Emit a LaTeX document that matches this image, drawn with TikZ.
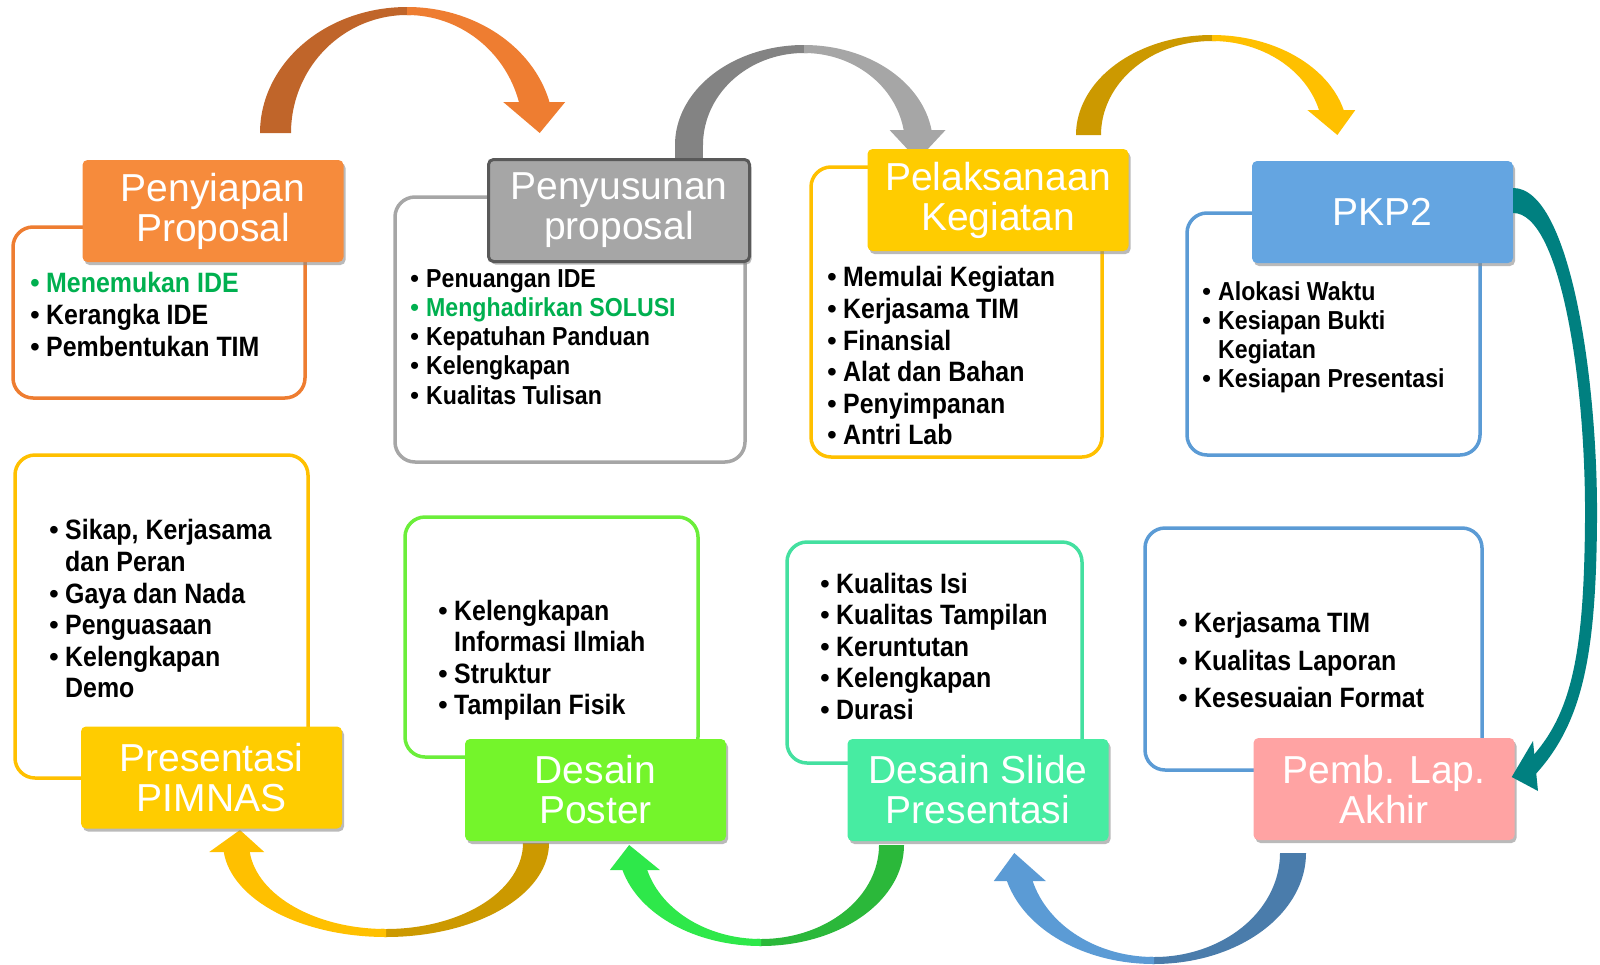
\documentclass[tikz,border=0pt]{standalone}
\usepackage{fontspec}
\setmainfont{Liberation Sans}
\newfontfamily\nrwb[FakeStretch=0.89]{Liberation Sans Bold}
\usetikzlibrary{shadows}
\definecolor{orgA}{HTML}{F68B3C}
\definecolor{orgL}{HTML}{EE7D31}
\definecolor{orgD}{HTML}{C0652A}
\definecolor{gryH}{HTML}{A6A6A6}
\definecolor{gryD}{HTML}{838383}
\definecolor{yel}{HTML}{FFCC00}
\definecolor{gldL}{HTML}{FFC000}
\definecolor{gldD}{HTML}{CC9900}
\definecolor{bluH}{HTML}{64A5E1}
\definecolor{bluL}{HTML}{5B9BD5}
\definecolor{bluD}{HTML}{4A7CAB}
\definecolor{grnH}{HTML}{74F52B}
\definecolor{grnB}{HTML}{6BEE3A}
\definecolor{grnL}{HTML}{2EE84A}
\definecolor{grnD}{HTML}{2BB83A}
\definecolor{mntH}{HTML}{47ECA2}
\definecolor{mntB}{HTML}{44E0A0}
\definecolor{pnkH}{HTML}{FFA3A3}
\definecolor{tea}{HTML}{008080}
\definecolor{okgreen}{HTML}{00B050}
\newcommand{\hdfont}{\fontsize{39}{40}\selectfont}
\newcommand{\lsfont}{\nrwb\fontsize{28}{31.6}\selectfont}
\newcommand{\lsfontsm}{\nrwb\fontsize{26}{29.3}\selectfont}
\newcommand{\bul}{\makebox[16pt][l]{\normalfont\textbullet}}
\newcommand{\ind}{\hspace*{16pt}}
% panah lengkung: Rx Ry rx ry h w dx ty
\newcommand{\arcarrow}[8]{%
  \pgfmathsetmacro{\angout}{asin(#5/#2)}%
  \pgfmathsetmacro{\angin}{asin(#5/#4)}%
  \pgfmathsetmacro{\shaftx}{(#1*cos(\angout)+#3*cos(\angin))/2}%
  \fill[arcdark] (-#1,0) arc[start angle=180, end angle=88, x radius=#1pt, y radius=#2pt]
    -- (88:#3pt and #4pt) arc[start angle=88, end angle=180, x radius=#3pt, y radius=#4pt] -- cycle;
  \fill[arclight] (0,#2) arc[start angle=90, end angle=\angout, x radius=#1pt, y radius=#2pt]
    -- (\angin:#3pt and #4pt) arc[start angle=\angin, end angle=90, x radius=#3pt, y radius=#4pt] -- cycle;
  \fill[arclight] (\shaftx-#6,#5) -- (\shaftx+#6,#5) -- (\shaftx+#7,#8) -- cycle;
}
\tikzset{
  head/.style = {rounded corners=5pt, minimum width=261pt, minimum height=102pt, inner sep=0pt,
    align=center, text=white, font=\hdfont,
    drop shadow={shadow xshift=2pt, shadow yshift=-3pt, fill=black!45, opacity=.6}},
  frame/.style = {draw, fill=white, rounded corners=20pt, line width=3.5pt, inner sep=0pt},
  list/.style = {anchor=north west, inner sep=0pt, align=left, font=\lsfont},
  arcdark/.style = {fill=black},
  arclight/.style = {fill=gray}
}

\begin{document}
\begin{tikzpicture}[x=1pt, y=1pt]
\useasboundingbox (0,0) rectangle (1600,-964);

% kotak isi
\node[frame, draw=orgL, minimum width=292pt, minimum height=171pt] (b1) at (159,-312.5) {};
\node[frame, draw=gryH, minimum width=350pt, minimum height=265pt] (b2) at (570,-329.5) {};
\node[frame, draw=gldL, minimum width=291pt, minimum height=290pt] (b3) at (956.5,-312) {};
\node[frame, draw=bluL, minimum width=293pt, minimum height=242pt] (b4) at (1333.5,-334) {};
\node[frame, draw=gldL, minimum width=293pt, minimum height=323pt] (b5) at (161.5,-616.5) {};
\node[frame, draw=grnB, minimum width=293pt, minimum height=240pt] (b6) at (551.5,-637) {};
\node[frame, draw=mntB, minimum width=295pt, minimum height=221pt] (b7) at (934.5,-652.5) {};
\node[frame, draw=bluL, minimum width=337pt, minimum height=242pt] (b8) at (1313.5,-649) {};

% daftar poin
\node[list] (l1) at (30,-272.5) {\textcolor{okgreen}{\bul Menemukan IDE}\\ \bul Kerangka IDE\\ \bul Pembentukan TIM};
\node[list, font=\lsfontsm] (l2) at (410,-269) {\bul Penuangan IDE\\ \textcolor{okgreen}{\bul Menghadirkan SOLUSI}\\ \bul Kepatuhan Panduan\\ \bul Kelengkapan\\ \bul Kualitas Tulisan};
\node[list] (l3) at (827,-266.5) {\bul Memulai Kegiatan\\ \bul Kerjasama TIM\\ \bul Finansial\\ \bul Alat dan Bahan\\ \bul Penyimpanan\\ \bul Antri Lab};
\node[list, font=\lsfontsm] (l4) at (1202,-281) {\bul Alokasi Waktu\\ \bul Kesiapan Bukti\\ \ind Kegiatan\\ \bul Kesiapan Presentasi};
\node[list] (l5) at (49,-519.5) {\bul Sikap, Kerjasama\\ \ind dan Peran\\ \bul Gaya dan Nada\\ \bul Penguasaan\\ \bul Kelengkapan\\ \ind Demo};
\node[list] (l6) at (438,-599.5) {\bul Kelengkapan\\ \ind Informasi Ilmiah\\ \bul Struktur\\ \bul Tampilan Fisik};
\node[list] (l7) at (820,-572.5) {\bul Kualitas Isi\\ \bul Kualitas Tampilan\\ \bul Keruntutan\\ \bul Kelengkapan\\ \bul Durasi};
\node[list] (l8) at (1178,-612.5) {\bul Kerjasama TIM\\[5.5pt] \bul Kualitas Laporan\\[5.5pt] \bul Kesesuaian Format};

% panah atas
\begin{scope}[shift={(407,-133)}, arcdark/.style={fill=orgD}, arclight/.style={fill=orgL}]
  \arcarrow{147}{126}{116}{118}{31}{31}{5.5}{0}
\end{scope}
\begin{scope}[shift={(804,-145)}, arcdark/.style={fill=gryD}, arclight/.style={fill=gryH}]
  \arcarrow{129}{100}{101}{92}{15}{28}{0}{-15}
  \fill[arcdark] (-129,0.5) rectangle (-101,-20);
\end{scope}
\begin{scope}[shift={(1212,-135)}, arcdark/.style={fill=gldD}, arclight/.style={fill=gldL}]
  \arcarrow{136}{100}{111}{94}{25}{24}{6}{0}
\end{scope}
% panah bawah
\begin{scope}[shift={(386,-843)}, rotate=180, arcdark/.style={fill=gldD}, arclight/.style={fill=gldL}]
  \arcarrow{163}{94}{137}{86}{9}{27.5}{-3.2}{-13}
\end{scope}
\begin{scope}[shift={(761,-845)}, rotate=180, arcdark/.style={fill=grnD}, arclight/.style={fill=grnL}]
  \arcarrow{143}{101}{118}{94}{25}{25}{5.7}{0}
\end{scope}
\begin{scope}[shift={(1154,-853)}, rotate=180, arcdark/.style={fill=bluD}, arclight/.style={fill=bluL}]
  \arcarrow{152}{111}{126}{104}{28}{26}{5.5}{0}
\end{scope}

% judul tahap
\node[head, fill=orgA] (h1) at (213,-211) {Penyiapan\\Proposal};
\node[head, fill=gryH, draw=black!65, line width=3pt] (h2) at (619,-210.5) {Penyusunan\\proposal};
\node[head, fill=yel] (h3) at (998,-200) {Pelaksanaan\\Kegiatan};
\node[head, fill=bluH] (h4) at (1382.5,-212) {PKP2};
\node[head, fill=yel] (h5) at (211.5,-777.5) {Presentasi\\PIMNAS};
\node[head, fill=grnH] (h6) at (595.5,-790) {Desain\\Poster};
\node[head, fill=mntH] (h7) at (978,-790) {Desain Slide\\Presentasi};
\node[head, fill=pnkH] (h8) at (1384,-789) {Pemb. Lap.\\Akhir};

% PKP2 -> Pemb. Lap. Akhir
\fill[tea] ([yshift=24pt]h4.east) .. controls (1570,-188) and (1598,-380) .. (1597,-520)
  .. controls (1596,-655) and (1583,-725) .. (1532,-778) -- (1525,-764)
  .. controls (1572,-718) and (1584,-655) .. (1585,-520)
  .. controls (1586,-380) and (1560,-213) .. ([yshift=-1pt]h4.east) -- cycle;
\fill[tea] (1533,-741) -- ([xshift=-3pt, yshift=12pt]h8.east) -- (1538,-791) -- cycle;
\end{tikzpicture}
\end{document}
